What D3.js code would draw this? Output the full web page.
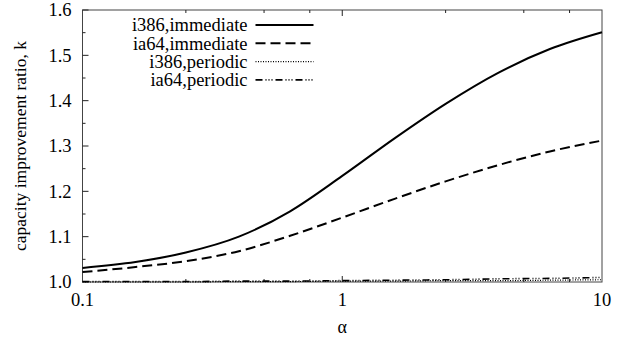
<!DOCTYPE html>
<html>
<head>
<meta charset="utf-8">
<script src="https://cdn.jsdelivr.net/npm/d3@7"></script>
<style>
  body { margin: 0; background: #fff; }
  text { font-family: "Liberation Serif", "Times New Roman", serif; fill: #000; }
</style>
</head>
<body>
<div id="chart"></div>
<script>
// values
var alphas = [0.1, 0.16, 0.25, 0.4, 0.63, 1, 1.6, 2.5, 4, 6.3, 10];
var i386Immediate = [1.031, 1.044, 1.065, 1.100, 1.156, 1.234, 1.318, 1.393, 1.462, 1.514, 1.551];
var ia64Immediate = [1.022, 1.033, 1.046, 1.068, 1.102, 1.142, 1.184, 1.222, 1.258, 1.288, 1.312];
var i386Periodic  = [1.000, 1.000, 1.000, 1.001, 1.001, 1.002, 1.002, 1.003, 1.003, 1.004, 1.005];
var ia64Periodic  = [1.001, 1.001, 1.001, 1.002, 1.002, 1.003, 1.004, 1.005, 1.007, 1.008, 1.010];

var seriesNames = ["i386,immediate", "ia64,immediate", "i386,periodic", "ia64,periodic"];
var yTicks = [1.0, 1.1, 1.2, 1.3, 1.4, 1.5, 1.6];
var xTickLabels = [0.1, 1, 10];
var xMinorTicks = [0.25, 0.5, 0.75, 2.5, 5, 7.5];

var W = 627, H = 340;
var margin = {top: 10, right: 25, bottom: 58, left: 82.5};
var width = W - margin.left - margin.right;
var height = H - margin.top - margin.bottom;

var svg = d3.select("#chart").append("svg")
    .attr("width", W)
    .attr("height", H);

var g = svg.append("g")
    .attr("transform", "translate(" + margin.left + "," + margin.top + ")");

var x = d3.scaleLog().domain([0.1, 10]).range([0, width]);
var y = d3.scaleLinear().domain([1.0, 1.6]).range([height, 0]);

// frame
g.append("rect")
    .attr("width", width)
    .attr("height", height)
    .attr("fill", "none")
    .attr("stroke", "#444")
    .attr("stroke-width", 1);

// y ticks, major every 0.1, minor in between
var yMinor = d3.range(1.05, 1.6, 0.1);
g.selectAll(".ytick").data(yTicks).enter().append("line")
    .attr("x1", 0).attr("x2", 6)
    .attr("y1", function(d) { return y(d); })
    .attr("y2", function(d) { return y(d); })
    .attr("stroke", "#222");
g.selectAll(".yminor").data(yMinor).enter().append("line")
    .attr("x1", 0).attr("x2", 3)
    .attr("y1", function(d) { return y(d); })
    .attr("y2", function(d) { return y(d); })
    .attr("stroke", "#222");
g.selectAll(".ylab").data(yTicks).enter().append("text")
    .attr("x", -11)
    .attr("y", function(d) { return y(d); })
    .attr("dy", "0.35em")
    .attr("text-anchor", "end")
    .style("font-size", "18.5px")
    .text(function(d) { return d3.format(".1f")(d); });

// x ticks on top and bottom
[0, height].forEach(function(base) {
  var dir = base === 0 ? 1 : -1;
  g.selectAll(null).data(xMinorTicks).enter().append("line")
      .attr("x1", function(d) { return x(d); })
      .attr("x2", function(d) { return x(d); })
      .attr("y1", base).attr("y2", base + dir * 3)
      .attr("stroke", "#222");
  g.append("line")
      .attr("x1", x(1)).attr("x2", x(1))
      .attr("y1", base).attr("y2", base + dir * 6)
      .attr("stroke", "#222");
});
g.selectAll(".xlab").data(xTickLabels).enter().append("text")
    .attr("x", function(d) { return x(d); })
    .attr("y", height + 24)
    .attr("text-anchor", "middle")
    .style("font-size", "18.5px")
    .text(function(d) { return d; });

// axis titles
g.append("text")
    .attr("x", x(1))
    .attr("y", height + 51)
    .attr("text-anchor", "middle")
    .style("font-size", "18px")
    .text("\u03b1");
svg.append("text")
    .attr("transform", "translate(26," + (margin.top + height / 2) + ") rotate(-90)")
    .attr("text-anchor", "middle")
    .style("font-size", "17.5px")
    .text("capacity improvement ratio, k");

// series
var styles = [
  {dash: null, w: 2},
  {dash: "10,5", w: 2},
  {dash: "1,1.5", w: 1.2},
  {dash: "7,3,1,2,1,2,1,3", w: 1.6}
];
var allSeries = [i386Immediate, ia64Immediate, i386Periodic, ia64Periodic];

var line = d3.line()
    .curve(d3.curveMonotoneX)
    .x(function(d) { return x(d.a); })
    .y(function(d) { return y(d.k); });

allSeries.forEach(function(vals, i) {
  var pts = alphas.map(function(a, j) { return {a: a, k: vals[j]}; });
  g.append("path")
      .datum(pts)
      .attr("d", line)
      .attr("fill", "none")
      .attr("stroke", "#000")
      .attr("stroke-width", styles[i].w)
      .attr("stroke-dasharray", styles[i].dash);
});

// legend
var lg = g.append("g").attr("transform", "translate(165,15)");
seriesNames.forEach(function(name, i) {
  var ry = i * 18.3;
  lg.append("text")
      .attr("x", 0)
      .attr("y", ry)
      .attr("dy", "0.35em")
      .attr("text-anchor", "end")
      .style("font-size", "18.5px")
      .text(name);
  lg.append("line")
      .attr("x1", 8).attr("x2", 66)
      .attr("y1", ry).attr("y2", ry)
      .attr("stroke", "#000")
      .attr("stroke-width", styles[i].w)
      .attr("stroke-dasharray", styles[i].dash);
});
</script>
</body>
</html>
